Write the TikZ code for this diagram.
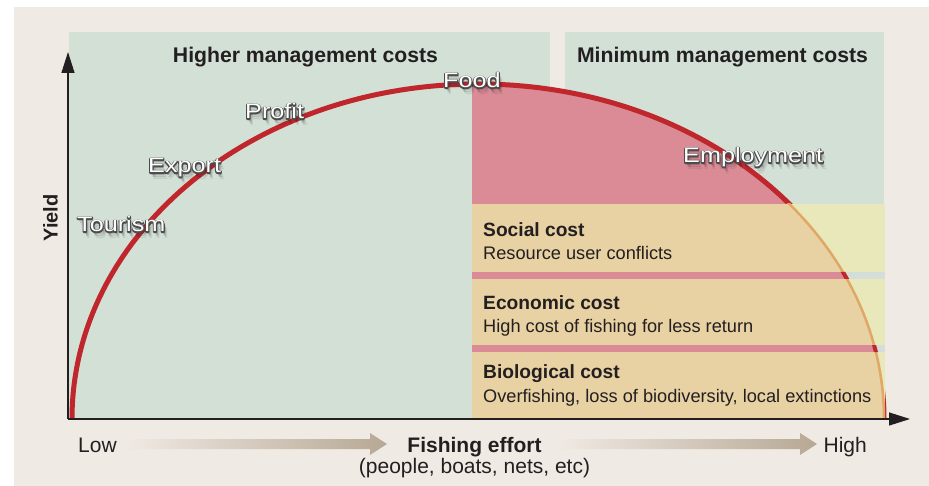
\documentclass[tikz,border=0pt]{standalone}
\usepackage{fontspec}
\setmainfont{Liberation Sans}
\newfontfamily\widefont[FakeStretch=1.2]{Liberation Sans}
\usetikzlibrary{arrows.meta}
\definecolor{bgbeige}{HTML}{F0EAE4}
\definecolor{panelgreen}{HTML}{D3E0D6}
\definecolor{pinkfill}{HTML}{DA8B96}
\definecolor{tanfill}{HTML}{E8D1A3}
\definecolor{yellowfill}{HTML}{E9E8BB}
\definecolor{bandout}{HTML}{D3DED8}
\definecolor{curvered}{HTML}{C0272D}
\definecolor{curveorange}{HTML}{DFA865}
\definecolor{arrowtan}{HTML}{B7A894}
\definecolor{ink}{HTML}{231F20}
\tikzset{
  lbl/.style={inner sep=0pt, anchor=base west, font=\widefont\fontsize{21}{23}\selectfont},
  title/.style={inner sep=0pt, anchor=base, text=ink, font=\bfseries\fontsize{21.2}{24}\selectfont},
  head/.style={inner sep=0pt, anchor=base west, text=ink, font=\bfseries\fontsize{19.2}{22}\selectfont},
  body/.style={inner sep=0pt, anchor=base west, text=ink, font=\fontsize{18.2}{21}\selectfont},
  axlbl/.style={inner sep=0pt, text=ink, font=\fontsize{21}{24}\selectfont},
  axis/.style={line width=1.3pt, ink, -{Triangle[length=21pt,width=13pt]}},
  effort/.style={left color=bgbeige, right color=arrowtan},
}
\newcommand{\strk}[1]{\special{pdf:code 2 Tr 2.1 w 0.3 0.3 0.3 RG 1 j}#1\special{pdf:code 0 Tr}}
\newcommand{\outlbl}[4]{%
  \foreach \dx/\dy/\op in {1.5/3/0.18, 2.5/5/0.14, 3.5/7/0.08}{%
    \node[lbl, text=black, text opacity=\op] at (#2+\dx,#3+\dy) {#4};}%
  \node[lbl, text=white] at (#2,#3) {\strk{#4}};
  \node[lbl, text=white] (#1) at (#2,#3) {#4};}
\begin{document}
\begin{tikzpicture}[x=1pt,y=-1pt]
\useasboundingbox (0,0) rectangle (929,486);
\fill[white] (0,0) rectangle (929,486);
\fill[bgbeige] (14,7) rectangle (929,486);
% panels
\fill[panelgreen] (69,32) rectangle (550,419);
\fill[panelgreen] (565,32) rectangle (884,419);
% pink region under curve
\begin{scope}
  \clip (478,419) ellipse [x radius=406pt, y radius=335pt];
  \fill[pinkfill] (472,70) rectangle (890,205);
\end{scope}
% yield curve
\draw[curvered, line width=5pt] (72,419) arc[start angle=180, end angle=0, x radius=406pt, y radius=335pt];
% cost box
\fill[yellowfill] (472,204) rectangle (885,419);
\begin{scope}
  \clip (478,419) ellipse [x radius=406pt, y radius=335pt];
  \fill[tanfill] (472,204) rectangle (885,419);
\end{scope}
\begin{scope}
  \clip (472,204) rectangle (890,419);
  \draw[curveorange, line width=2.5pt] (72,419) arc[start angle=180, end angle=0, x radius=406pt, y radius=335pt];
\end{scope}
% separating bands
\fill[bandout] (472,272) rectangle (885,279);
\fill[bandout] (472,345) rectangle (885,352);
\begin{scope}
  \clip (478,419) ellipse [x radius=406pt, y radius=335pt];
  \fill[pinkfill] (472,272) rectangle (885,279);
  \fill[pinkfill] (472,345) rectangle (885,352);
\end{scope}
\begin{scope}
  \clip (472,272) rectangle (890,279) (472,345) rectangle (890,352);
  \draw[curvered, line width=4pt] (72,419) arc[start angle=180, end angle=0, x radius=406pt, y radius=335pt];
\end{scope}
% axes
\coordinate (origin) at (68,419);
\coordinate (ytip) at (68,52);
\coordinate (xtip) at (910,419);
\draw[axis] (origin) -- (ytip);
\draw[axis] (origin) -- (xtip);
% titles
\node[title] (hmc) at (305.5,63) {Higher management costs};
\node[title] (mmc) at (722.5,63) {Minimum management costs};
% outlined labels
\outlbl{tourism}{77}{232}{Tourism}
\outlbl{export}{148}{173}{Export}
\outlbl{profit}{245}{119}{Profit}
\outlbl{food}{443}{88}{Food}
\outlbl{employment}{683}{163}{Employment}
% cost texts
\node[head] (soc) at (483,237) {Social cost};
\node[body] (socb) at (483,260) {Resource user conflicts};
\node[head] (eco) at (483,310) {Economic cost};
\node[body] (ecob) at (483,333) {High cost of fishing for less return};
\node[head] (bio) at (483,378) {Biological cost};
\node[body] (biob) at (483,402) {Overfishing, loss of biodiversity, local extinctions};
% axis labels
\node[axlbl, font=\bfseries\fontsize{20}{24}\selectfont, rotate=90] (yield) at (50.5,218) {Yield};
\node[axlbl, anchor=base west] (low) at (78,452) {Low};
\node[axlbl, anchor=base, font=\bfseries\fontsize{21}{24}\selectfont] (effort) at (474.5,452) {Fishing effort};
\node[axlbl, anchor=base] (effortsub) at (474.5,473) {(people, boats, nets, etc)};
\node[axlbl, anchor=base east] (high) at (867,452) {High};
% gradient arrows
\shade[effort] (125,439) -- (370,439) -- (370,433) -- (387,444) -- (370,455) -- (370,449) -- (125,449) -- cycle;
\shade[effort] (557,439) -- (800,439) -- (800,433) -- (817,444) -- (800,455) -- (800,449) -- (557,449) -- cycle;
\end{tikzpicture}
\end{document}
